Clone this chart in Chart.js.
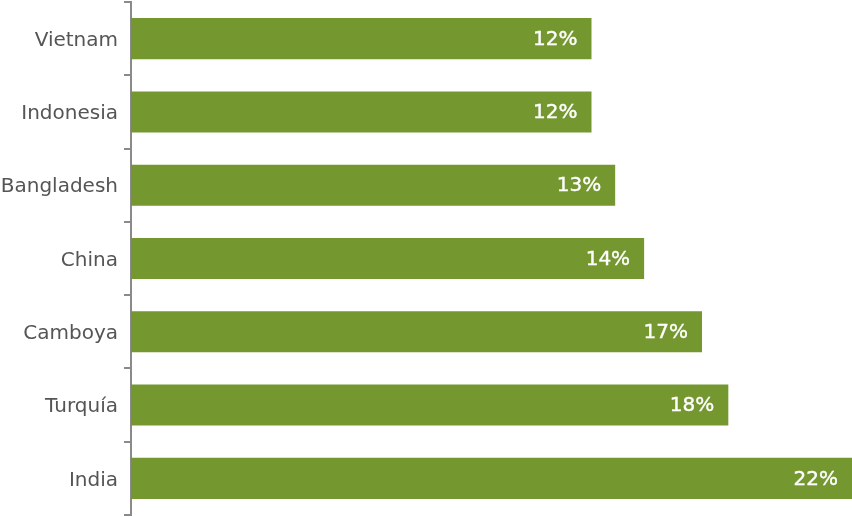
<!DOCTYPE html>
<html>
<head>
<meta charset="utf-8">
<script src="https://cdn.jsdelivr.net/npm/chart.js@4"></script>
<style>
  html, body { margin: 0; padding: 0; background: #fff; }
  #wrap { width: 852px; height: 517px; }
</style>
</head>
<body>
<div id="wrap"><canvas id="chart"></canvas></div>
<script>
// countries, top to bottom
const countries = ["Vietnam", "Indonesia", "Bangladesh", "China", "Camboya", "Turquía", "India"];
// share values (%), labels show them rounded
const shares = [12.4, 12.4, 13.3, 14.4, 16.6, 17.6, 22.3];
// the source axis does not start at zero
const axisMin = -5.1;
const axisMax = 22.3;

const barLabels = {
  id: 'barLabels',
  afterDatasetsDraw(chart) {
    const ctx = chart.ctx;
    const meta = chart.getDatasetMeta(0);
    ctx.save();
    ctx.fillStyle = '#ffffff';
    ctx.strokeStyle = '#ffffff';
    ctx.lineWidth = 0.4;
    ctx.font = '20px "DejaVu Sans"';
    ctx.textAlign = 'right';
    ctx.textBaseline = 'middle';
    meta.data.forEach((bar, i) => {
      const txt = Math.round(shares[i]) + '%';
      ctx.fillText(txt, bar.x - 14, bar.y + 1);
      ctx.strokeText(txt, bar.x - 14, bar.y + 1);
    });
    ctx.restore();
  }
};

new Chart(document.getElementById('chart'), {
  type: 'bar',
  data: {
    labels: countries,
    datasets: [{
      data: shares,
      base: axisMin,
      backgroundColor: '#74972f',
      borderWidth: 0,
      categoryPercentage: 1,
      barPercentage: 0.56
    }]
  },
  options: {
    indexAxis: 'y',
    responsive: true,
    maintainAspectRatio: false,
    animation: false,
    layout: { padding: { top: 2, bottom: 2, left: 0, right: 0 } },
    plugins: { legend: { display: false }, tooltip: { enabled: false } },
    scales: {
      x: { display: false, min: axisMin, max: axisMax },
      y: {
        afterFit(scale) {
          scale.width = 131;
          scale.paddingTop = 0;
          scale.paddingBottom = 0;
        },
        border: { color: '#8a8a8a', width: 2 },
        grid: { drawOnChartArea: false, color: '#8a8a8a', lineWidth: 2, tickLength: 7 },
        ticks: { color: '#555555', font: { family: '"DejaVu Sans"', size: 20 }, padding: 6, labelOffset: 2 }
      }
    }
  },
  plugins: [barLabels]
});
</script>
</body>
</html>
